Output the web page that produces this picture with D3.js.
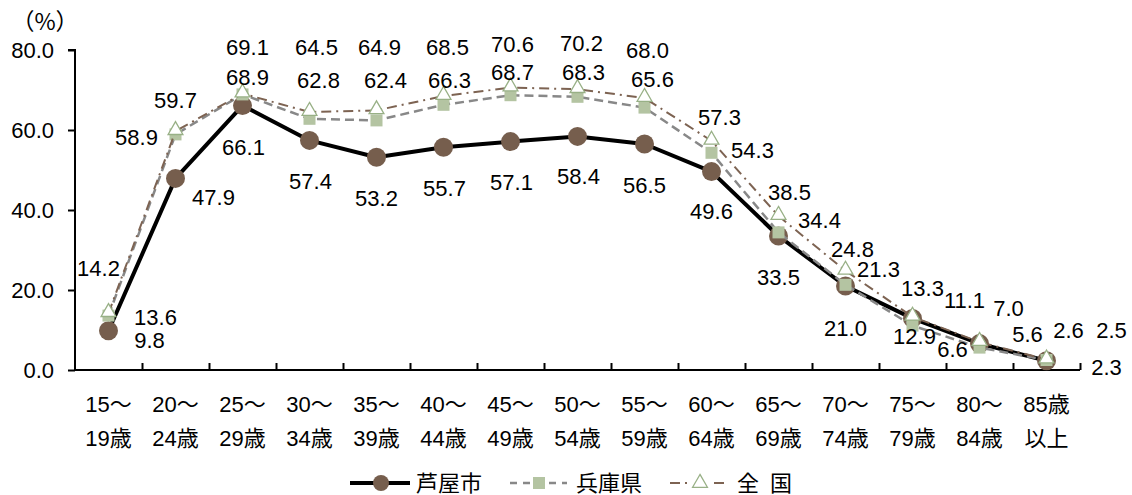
<!DOCTYPE html>
<html>
<head>
<meta charset="utf-8">
<script src="https://cdn.jsdelivr.net/npm/d3@7"></script>
<style>
  html, body { margin: 0; padding: 0; background: #fff; }
  svg { display: block; }
  text { font-family: "Liberation Sans", Arial, "Noto Sans CJK JP", sans-serif; fill: #000; }
</style>
</head>
<body>
<svg id="chart" width="1132" height="495"></svg>
<script>
// Age groups (two-line labels)
const ageTop = ["15～","20～","25～","30～","35～","40～","45～","50～","55～","60～","65～","70～","75～","80～","85歳"];
const ageBottom = ["19歳","24歳","29歳","34歳","39歳","44歳","49歳","54歳","59歳","64歳","69歳","74歳","79歳","84歳","以上"];

// Rates (%) by age group
const ashiya = [9.8, 47.9, 66.1, 57.4, 53.2, 55.7, 57.1, 58.4, 56.5, 49.6, 33.5, 21.0, 12.9, 6.6, 2.3];
const hyogo = [13.6, 58.9, 68.9, 62.8, 62.4, 66.3, 68.7, 68.3, 65.6, 54.3, 34.4, 21.3, 11.1, 5.6, 2.5];
const zenkoku = [14.2, 59.7, 69.1, 64.5, 64.9, 68.5, 70.6, 70.2, 68.0, 57.3, 38.5, 24.8, 13.3, 7.0, 2.6];

const seriesNames = ["芦屋市", "兵庫県", "全\u2002国"];
const yTicks = [0, 20, 40, 60, 80];

// Value label placement (pixel offsets from each point)
const ashiyaLabelOffsets = [[41,9],[38,19],[1,41],[1,41],[0,41],[1,41],[1,40],[1,40],[0,41],[0,39],[0,41],[0,42],[2,18],[-27,5],[60,6]];
const hyogoLabelOffsets = [[47,1],[-39,3],[5,-17],[9,-39],[9,-40],[6,-25],[2,-23],[6,-25],[8,-29],[41,-3],[41,-12],[33,-16],[52,-26],[48,-14],[65,-30]];
const zenkokuLabelOffsets = [[-10,-45],[0,-31],[5,-47],[7,-65],[3,-63],[4,-49],[2,-44],[4,-46],[3,-48],[8,-24],[11,-24],[7,-22],[10,-29],[29,-34],[22,-30]];

const svg = d3.select("#chart");
const plotLeft = 75, plotRight = 1080, plotTop = 50, plotBottom = 370;

const x = d3.scaleBand().domain(d3.range(ageTop.length)).range([plotLeft, plotRight]).padding(0);
const xEdge = d3.scaleLinear().domain([0, ageTop.length]).range([plotLeft, plotRight]);
const y = d3.scaleLinear().domain([0, 80]).range([plotBottom, plotTop]);
const cx = i => x(i) + x.bandwidth() / 2;

// Axes
const yAxis = svg.append("g").attr("transform", `translate(${plotLeft},0)`)
  .call(d3.axisLeft(y).tickValues(yTicks).tickFormat(d3.format(".1f")).tickSize(7).tickPadding(14));
yAxis.select(".domain").attr("stroke", "#000").attr("stroke-width", 2).attr("d", `M-7,${y(80)}H0V${y(0)}`);
yAxis.selectAll(".tick line").attr("stroke", "#000").attr("stroke-width", 2);
yAxis.selectAll(".tick text").attr("font-size", 22).attr("fill", "#000");

const xAxis = svg.append("g").attr("transform", `translate(0,${plotBottom})`)
  .call(d3.axisBottom(xEdge).tickValues(d3.range(1, ageTop.length + 1)).tickSize(-7).tickFormat(""));
xAxis.select(".domain").attr("stroke", "#000").attr("stroke-width", 2).attr("d", `M${plotLeft},0H${plotRight}`);
xAxis.selectAll(".tick line").attr("stroke", "#000").attr("stroke-width", 2);

// Category labels
const catG = svg.append("g");
ageTop.forEach((t, i) => {
  const tx = catG.append("text").attr("x", cx(i)).attr("text-anchor", "middle").attr("font-size", 22);
  tx.append("tspan").attr("x", cx(i)).attr("y", 412).text(t);
  tx.append("tspan").attr("x", cx(i)).attr("y", 446).text(ageBottom[i]);
});

// Unit label
svg.append("text").attr("x", 45).attr("y", 30).attr("text-anchor", "middle").attr("font-size", 23)
  .style("font-family", "'Noto Sans CJK JP', sans-serif").text("（%）");

const line = d3.line().x((d, i) => cx(i)).y(d => y(d));

// 芦屋市
svg.append("path").datum(ashiya).attr("d", line).attr("fill", "none")
  .attr("stroke", "#000").attr("stroke-width", 4).attr("stroke-linejoin", "round");
svg.append("g").selectAll("circle").data(ashiya).join("circle")
  .attr("cx", (d, i) => cx(i)).attr("cy", d => y(d)).attr("r", 9.5).attr("fill", "#765e4d");

// 兵庫県
svg.append("path").datum(hyogo).attr("d", line).attr("fill", "none")
  .attr("stroke", "#888888").attr("stroke-width", 2.5).attr("stroke-dasharray", "9,5");
svg.append("g").selectAll("rect").data(hyogo).join("rect")
  .attr("x", (d, i) => cx(i) - 6).attr("y", d => y(d) - 6).attr("width", 12).attr("height", 12)
  .attr("fill", "#b4c4a2");

// 全国
const tri = d3.symbol().type(d3.symbolTriangle).size(95);
svg.append("path").datum(zenkoku).attr("d", line).attr("fill", "none")
  .attr("stroke", "#7d6352").attr("stroke-width", 2).attr("stroke-dasharray", "10,5,2,5");
svg.append("g").selectAll("path").data(zenkoku).join("path")
  .attr("d", tri).attr("transform", (d, i) => `translate(${cx(i)},${y(d) - 1})`)
  .attr("fill", "#fff").attr("stroke", "#98b086").attr("stroke-width", 1.3);

// Value labels
function addLabels(values, offsets) {
  svg.append("g").selectAll("text").data(values).join("text")
    .attr("x", (d, i) => cx(i) + offsets[i][0])
    .attr("y", (d, i) => y(d) + offsets[i][1])
    .attr("dy", "0.36em").attr("text-anchor", "middle").attr("font-size", 22)
    .text(d => d.toFixed(1));
}
addLabels(ashiya, ashiyaLabelOffsets);
addLabels(hyogo, hyogoLabelOffsets);
addLabels(zenkoku, zenkokuLabelOffsets);

// Legend
const lg = svg.append("g").attr("transform", "translate(0,483)");
lg.append("line").attr("x1", 350).attr("x2", 410).attr("stroke", "#000").attr("stroke-width", 4);
lg.append("circle").attr("cx", 381).attr("r", 8).attr("fill", "#765e4d");
lg.append("text").attr("x", 416).attr("dy", "0.36em").attr("font-size", 22).text(seriesNames[0]);

lg.append("line").attr("x1", 510).attr("x2", 567).attr("stroke", "#888888").attr("stroke-width", 2.5).attr("stroke-dasharray", "7,6");
lg.append("rect").attr("x", 533).attr("y", -6).attr("width", 12).attr("height", 12).attr("fill", "#b4c4a2");
lg.append("text").attr("x", 576).attr("dy", "0.36em").attr("font-size", 22).text(seriesNames[1]);

lg.append("line").attr("x1", 670).attr("x2", 729).attr("stroke", "#7d6352").attr("stroke-width", 2).attr("stroke-dasharray", "10,5,2,5");
lg.append("rect").attr("x", 690).attr("y", -8).attr("width", 20).attr("height", 16).attr("fill", "#fff");
lg.append("path").attr("d", tri).attr("transform", "translate(700,0)")
  .attr("fill", "#fff").attr("stroke", "#98b086").attr("stroke-width", 1.3);
lg.append("text").attr("x", 737).attr("dy", "0.36em").attr("font-size", 22).text(seriesNames[2]);
</script>
</body>
</html>
